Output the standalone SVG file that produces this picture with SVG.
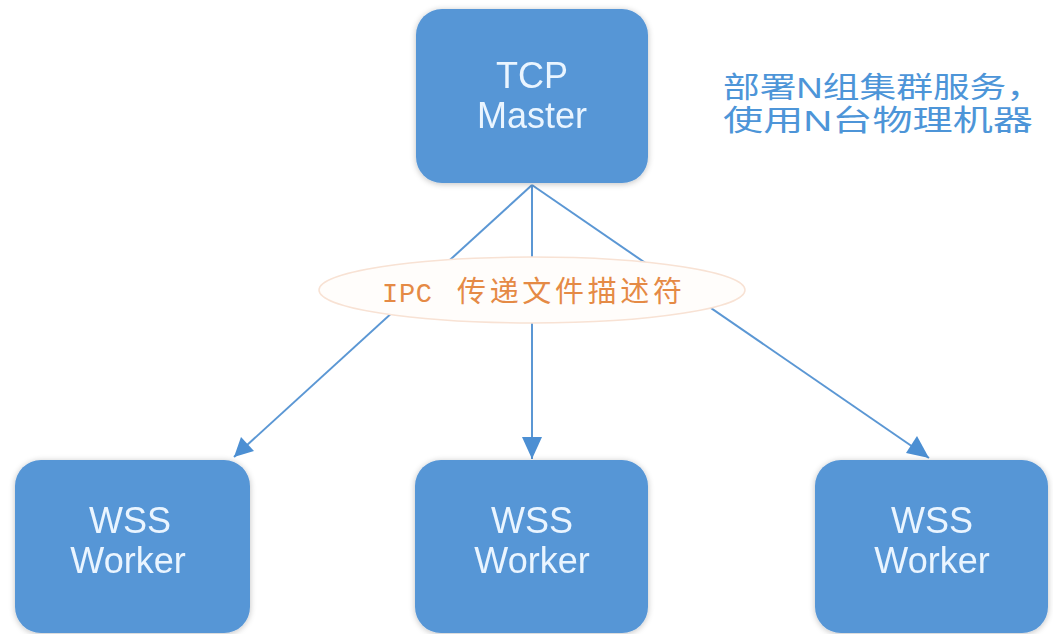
<svg xmlns="http://www.w3.org/2000/svg" width="1053" height="634" viewBox="0 0 1053 634">
<style>
.box{fill:#5796d6;}
.lbl{font-family:"Liberation Sans",Arial,sans-serif;font-size:36px;fill:#eaf5ff;text-anchor:middle;}
.conn{stroke:#5b97d4;stroke-width:2;fill:none;}
.head{fill:#4c8fd3;}
.note{font-family:"Liberation Sans","Noto Sans CJK SC",sans-serif;font-size:29px;fill:#4d95d8;}
.ipc{font-size:27px;fill:#e58a45;}
</style>
<defs>
<filter id="sh" x="-10%" y="-10%" width="120%" height="120%">
<feGaussianBlur in="SourceAlpha" stdDeviation="3"/>
<feOffset dx="0" dy="1"/>
<feComponentTransfer><feFuncA type="linear" slope="0.25"/></feComponentTransfer>
<feMerge><feMergeNode/><feMergeNode in="SourceGraphic"/></feMerge>
</filter>
</defs>
<rect width="1053" height="634" fill="#ffffff"/>
<g id="connectors">
<line class="conn" x1="532" y1="185" x2="234" y2="457"/>
<line class="conn" x1="532" y1="185" x2="532" y2="459"/>
<line class="conn" x1="532" y1="185" x2="929" y2="458"/>
<polygon class="head" points="234,457 241,437 254,451"/>
<polygon class="head" points="532,459 522,437 542,437"/>
<polygon class="head" points="929,458 906,453 917,436"/>
</g>
<g id="ipc-label">
<ellipse cx="532" cy="290" rx="213" ry="33" fill="#fffdfb" stroke="#f8e2d4" stroke-width="1.5"/>
<text y="302" class="ipc"><tspan x="382" font-family="Liberation Mono,monospace" textLength="50">IPC</tspan><tspan x="457" font-family="Noto Sans CJK SC,sans-serif" font-size="29" textLength="225" lengthAdjust="spacing">传递文件描述符</tspan></text>
</g>
<g id="master" filter="url(#sh)">
<rect class="box" x="416" y="9" width="232" height="174" rx="26"/>
<text class="lbl" x="532" y="88">TCP</text>
<text class="lbl" x="532" y="128">Master</text>
</g>
<g id="worker1" filter="url(#sh)">
<rect class="box" x="15" y="460" width="235" height="173" rx="26"/>
<text class="lbl" x="130" y="533">WSS</text>
<text class="lbl" x="128" y="573">Worker</text>
</g>
<g id="worker2" filter="url(#sh)">
<rect class="box" x="415" y="460" width="233" height="173" rx="26"/>
<text class="lbl" x="532" y="533">WSS</text>
<text class="lbl" x="532" y="573">Worker</text>
</g>
<g id="worker3" filter="url(#sh)">
<rect class="box" x="815" y="460" width="233" height="173" rx="26"/>
<text class="lbl" x="932" y="533">WSS</text>
<text class="lbl" x="932" y="573">Worker</text>
</g>
<g id="note">
<text class="note" x="723" y="98" textLength="320" lengthAdjust="spacingAndGlyphs">部署N组集群服务，</text>
<text class="note" x="723" y="131" textLength="310" lengthAdjust="spacingAndGlyphs">使用N台物理机器</text>
</g>
</svg>
